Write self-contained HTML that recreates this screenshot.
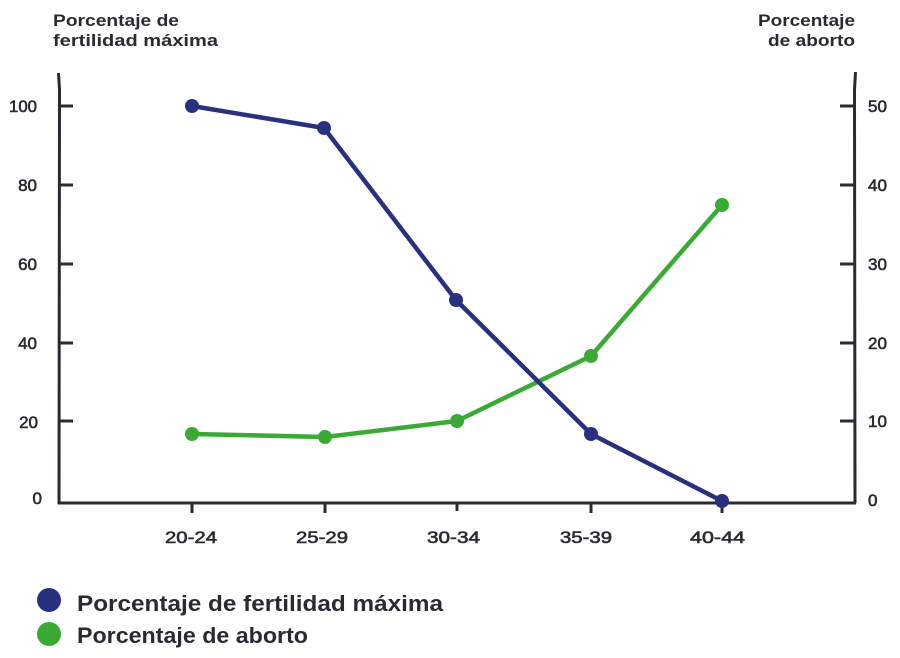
<!DOCTYPE html>
<html>
<head>
<meta charset="utf-8">
<style>
  html, body { margin: 0; padding: 0; background: #ffffff; }
  body { width: 900px; height: 658px; overflow: hidden; }
  svg { display: block; }
  .t { font-family: "Liberation Sans", sans-serif; fill: #2b2a33; }
  .b { font-weight: bold; }
  .m { stroke: #2b2a33; stroke-width: 0.6; }
</style>
</head>
<body>
<svg width="900" height="658" viewBox="0 0 900 658" xmlns="http://www.w3.org/2000/svg">
  <!-- Axis titles -->
  <text class="t b" x="53" y="26" font-size="17" textLength="126" lengthAdjust="spacingAndGlyphs">Porcentaje de</text>
  <text class="t b" x="53" y="46" font-size="17" textLength="165" lengthAdjust="spacingAndGlyphs">fertilidad máxima</text>
  <text class="t b" x="758" y="26" font-size="17" textLength="97" lengthAdjust="spacingAndGlyphs">Porcentaje</text>
  <text class="t b" x="768" y="46" font-size="17" textLength="87" lengthAdjust="spacingAndGlyphs">de aborto</text>

  <!-- Axes -->
  <g stroke="#2b2a33" stroke-width="3" fill="none" stroke-linecap="butt">
    <path d="M58.5 73 L59.5 90 L59 503"/>
    <path d="M57.5 503 L856 503"/>
    <path d="M855.5 72 L854.5 90 L855 503"/>
    <!-- left ticks -->
    <path d="M59 106 H73 M59 185 H73 M59 264 H73 M59 343 H73 M59 421 H73"/>
    <!-- right ticks -->
    <path d="M840 106 H855 M840 185 H855 M840 264 H855 M840 343 H855 M840 421 H855"/>
    <!-- x ticks -->
    <path d="M192 503 V513 M325 503 V513 M457 503 V511 M591 503 V513 M722 503 V513"/>
  </g>

  <!-- Left tick labels -->
  <g class="t m" font-size="17" text-anchor="end">
    <text x="37" y="112" textLength="28" lengthAdjust="spacingAndGlyphs">100</text>
    <text x="37" y="191">80</text>
    <text x="37" y="270">60</text>
    <text x="37" y="349">40</text>
    <text x="38" y="428">20</text>
    <text x="42" y="504">0</text>
  </g>
  <!-- Right tick labels -->
  <g class="t m" font-size="17" text-anchor="start">
    <text x="868" y="112">50</text>
    <text x="868" y="191">40</text>
    <text x="868" y="270">30</text>
    <text x="868" y="349">20</text>
    <text x="868" y="427">10</text>
    <text x="868" y="506">0</text>
  </g>
  <!-- X labels -->
  <g class="t m" font-size="17">
    <text x="165" y="543" textLength="52" lengthAdjust="spacingAndGlyphs">20-24</text>
    <text x="296" y="543" textLength="52" lengthAdjust="spacingAndGlyphs">25-29</text>
    <text x="427" y="543" textLength="53" lengthAdjust="spacingAndGlyphs">30-34</text>
    <text x="560" y="543" textLength="52" lengthAdjust="spacingAndGlyphs">35-39</text>
    <text x="690" y="543" textLength="55" lengthAdjust="spacingAndGlyphs">40-44</text>
  </g>

  <!-- Green series (aborto) -->
  <polyline points="192,434 325,437 457,421 591,356 722,205" fill="none" stroke="#3aaa35" stroke-width="4.5" stroke-linejoin="round"/>
  <g fill="#3aaa35">
    <circle cx="192" cy="434" r="7"/>
    <circle cx="325" cy="437" r="7"/>
    <circle cx="457" cy="421" r="7"/>
    <circle cx="591" cy="356" r="7"/>
    <circle cx="722" cy="205" r="7"/>
  </g>

  <!-- Blue series (fertilidad) -->
  <polyline points="192,106 324,128 456,300 591,434 722,501" fill="none" stroke="#29307f" stroke-width="4.5" stroke-linejoin="round"/>
  <g fill="#29307f">
    <circle cx="192" cy="106" r="7"/>
    <circle cx="324" cy="128" r="7"/>
    <circle cx="456" cy="300" r="7"/>
    <circle cx="591" cy="434" r="7"/>
    <circle cx="722" cy="501" r="7"/>
  </g>

  <!-- Legend -->
  <circle cx="49" cy="600" r="12" fill="#29307f"/>
  <circle cx="49" cy="634" r="12" fill="#3aaa35"/>
  <text class="t b" x="77" y="611" font-size="22" textLength="366" lengthAdjust="spacingAndGlyphs">Porcentaje de fertilidad máxima</text>
  <text class="t b" x="77" y="643" font-size="22" textLength="231" lengthAdjust="spacingAndGlyphs">Porcentaje de aborto</text>
</svg>
</body>
</html>
